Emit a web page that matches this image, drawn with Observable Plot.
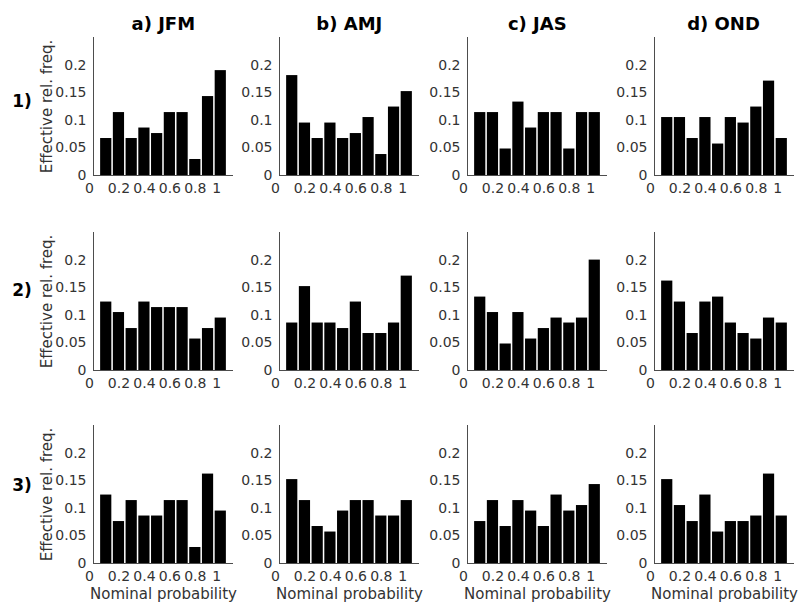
<!DOCTYPE html>
<html>
<head>
<meta charset="utf-8">
<script src="https://cdn.jsdelivr.net/npm/d3@7"></script>
<script src="https://cdn.jsdelivr.net/npm/@observablehq/plot@0.6"></script>
<style>
  html, body { margin: 0; padding: 0; background: #fff; }
  #chart { position: relative; width: 801px; height: 603px; overflow: hidden; font-family: "DejaVu Sans", sans-serif; }
  .panel { position: absolute; }
  .title { position: absolute; font-weight: bold; font-size: 18px; color: #000; transform: translate(-50%, -50%); white-space: nowrap; }
  .rowlab { position: absolute; font-weight: bold; font-size: 17px; color: #000; transform: translate(-50%, -50%); white-space: nowrap; }
</style>
</head>
<body>
<div id="chart"></div>
<script>
// ---- data ----
const seasons = ["a) JFM", "b) AMJ", "c) JAS", "d) OND"];
const rowLabels = ["1)", "2)", "3)"];
const probs = [0.1, 0.2, 0.3, 0.4, 0.5, 0.6, 0.7, 0.8, 0.9, 1.0];
const xTicksEnds = [0, 1];
const xTicksInner = [0.2, 0.4, 0.6, 0.8];
const yTicks = [0, 0.05, 0.1, 0.15, 0.2];
const yLabel = "Effective rel. freq.";
const xLabel = "Nominal probability";

const row1_JFM = [0.067, 0.114, 0.067, 0.086, 0.076, 0.114, 0.114, 0.029, 0.143, 0.190];
const row1_AMJ = [0.181, 0.095, 0.067, 0.095, 0.067, 0.076, 0.105, 0.038, 0.124, 0.152];
const row1_JAS = [0.114, 0.114, 0.048, 0.133, 0.086, 0.114, 0.114, 0.048, 0.114, 0.114];
const row1_OND = [0.105, 0.105, 0.067, 0.105, 0.057, 0.105, 0.095, 0.124, 0.171, 0.067];

const row2_JFM = [0.124, 0.105, 0.076, 0.124, 0.114, 0.114, 0.114, 0.057, 0.076, 0.095];
const row2_AMJ = [0.086, 0.152, 0.086, 0.086, 0.076, 0.124, 0.067, 0.067, 0.086, 0.171];
const row2_JAS = [0.133, 0.105, 0.048, 0.105, 0.057, 0.076, 0.095, 0.086, 0.095, 0.200];
const row2_OND = [0.162, 0.124, 0.067, 0.124, 0.133, 0.086, 0.067, 0.057, 0.095, 0.086];

const row3_JFM = [0.124, 0.076, 0.114, 0.086, 0.086, 0.114, 0.114, 0.029, 0.162, 0.095];
const row3_AMJ = [0.152, 0.114, 0.067, 0.057, 0.095, 0.114, 0.114, 0.086, 0.086, 0.114];
const row3_JAS = [0.076, 0.114, 0.067, 0.114, 0.095, 0.067, 0.124, 0.095, 0.105, 0.143];
const row3_OND = [0.152, 0.105, 0.076, 0.124, 0.057, 0.076, 0.076, 0.086, 0.162, 0.086];

const grid = [
  [row1_JFM, row1_AMJ, row1_JAS, row1_OND],
  [row2_JFM, row2_AMJ, row2_JAS, row2_OND],
  [row3_JFM, row3_AMJ, row3_JAS, row3_OND]
];

// ---- layout ----
const colLeft = [93.3, 279.3, 467.3, 653.5];
const rowTop = [37, 231.5, 424.5];
const frameW = 140, frameH = 138;
const mL = 60, mR = 6, mT = 6, mB = 40;
const halfBar = 0.044;
const axisColor = "#4d4d4d";
const textColor = "#333";

const chart = document.getElementById("chart");

grid.forEach((rowSeries, r) => {
  rowSeries.forEach((vals, c) => {
    const data = probs.map((p, i) => ({p, v: vals[i]}));
    const marks = [
      Plot.rect(data, {x1: d => d.p - halfBar, x2: d => d.p + halfBar, y1: 0, y2: "v", fill: "black"}),
      Plot.ruleX([0], {stroke: axisColor, strokeWidth: 1}),
      Plot.ruleY([0], {stroke: axisColor, strokeWidth: 1}),
      Plot.axisX({ticks: xTicksInner, tickSize: 0, tickPadding: 8, tickFormat: d => String(d), label: null, fill: textColor}),
      Plot.axisX({ticks: xTicksEnds, tickSize: 0, tickPadding: 8, tickFormat: d => String(d), label: null, fill: textColor, dx: -4}),
      Plot.axisY({ticks: yTicks, tickSize: 0, tickPadding: 7, tickFormat: d => String(d), label: null, fill: textColor})
    ];
    if (c === 0) {
      marks.push(Plot.text([yLabel], {frameAnchor: "left", rotate: -90, dx: -46, fontSize: 15, fill: textColor, textAnchor: "middle", lineAnchor: "middle", text: d => d}));
    }
    if (r === 2) {
      marks.push(Plot.text([xLabel], {frameAnchor: "bottom", dy: 31, fontSize: 15, fill: textColor, textAnchor: "middle", lineAnchor: "middle", text: d => d}));
    }
    const svg = Plot.plot({
      width: mL + frameW + mR,
      height: mT + frameH + mB,
      marginLeft: mL, marginRight: mR, marginTop: mT, marginBottom: mB,
      style: {fontFamily: "DejaVu Sans", fontSize: "14px", background: "transparent", overflow: "visible", color: textColor},
      x: {domain: [0, 1.1]},
      y: {domain: [0, 0.25]},
      marks
    });
    const div = document.createElement("div");
    div.className = "panel";
    div.style.left = (colLeft[c] - mL) + "px";
    div.style.top = (rowTop[r] - mT) + "px";
    div.appendChild(svg);
    chart.appendChild(div);
  });
});

seasons.forEach((s, c) => {
  const t = document.createElement("div");
  t.className = "title";
  t.textContent = s;
  t.style.left = (colLeft[c] + frameW / 2) + "px";
  t.style.top = "23px";
  chart.appendChild(t);
});

const rowLabY = [100.5, 290, 485];
rowLabels.forEach((s, r) => {
  const t = document.createElement("div");
  t.className = "rowlab";
  t.textContent = s;
  t.style.left = "22px";
  t.style.top = rowLabY[r] + "px";
  chart.appendChild(t);
});
</script>
</body>
</html>
